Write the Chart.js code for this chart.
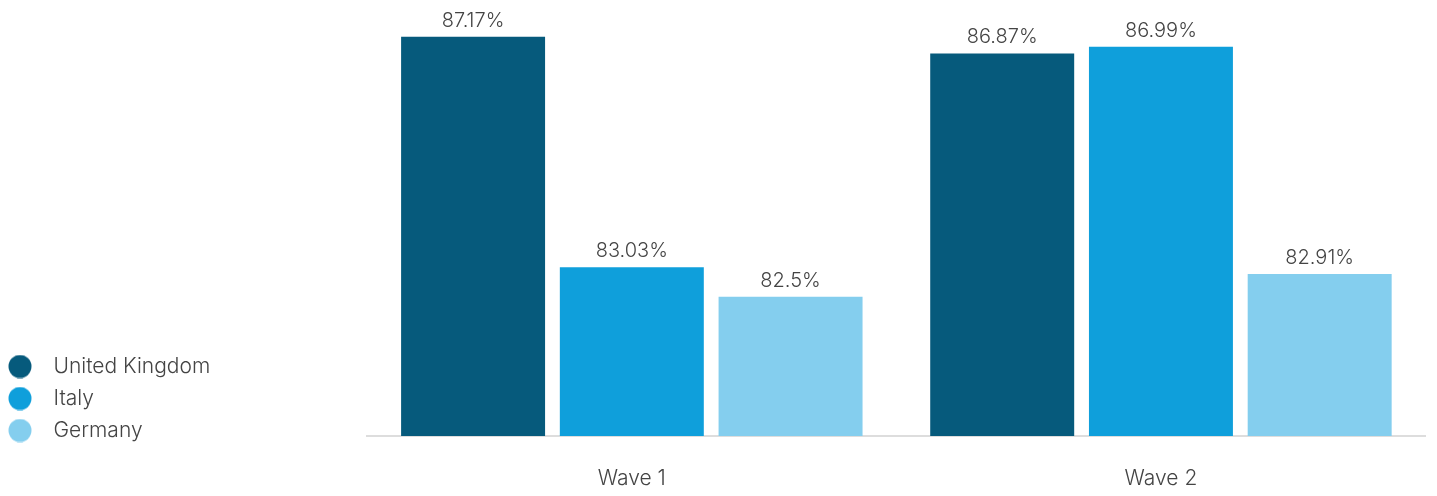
<!DOCTYPE html>
<html>
<head>
<meta charset="utf-8">
<script src="https://cdn.jsdelivr.net/npm/chart.js@4.4.1/dist/chart.umd.min.js"></script>
<style>
  html, body { margin: 0; padding: 0; background: #fff; }
  #wrap { width: 1437px; height: 496px; position: relative; }
</style>
</head>
<body>
<div id="wrap"><canvas id="chart"></canvas></div>
<script>
    "use strict";

    // Data
    var waves = ["Wave 1", "Wave 2"];
    var ukValues = [87.17, 86.87];
    var italyValues = [83.03, 86.99];
    var germanyValues = [82.5, 82.91];

    var colors = ["#065a7c", "#0f9fdb", "#84ceee"];
    var fontFamily = "Inter, 'Noto Sans', sans-serif";

    // Legend dots (circle sits at the left of a wider box)
    var makeDot = function (color) {
        var c = document.createElement("canvas");
        c.width = 40;
        c.height = 24;
        var g = c.getContext("2d");
        g.fillStyle = color;
        g.beginPath();
        g.arc(13, 12, 11.5, 0, 2 * Math.PI);
        g.fill();
        return c;
    };
    var dots = colors.map(makeDot);

    // Value labels above the bars
    var barLabels = {
        id: "barLabels",
        afterDatasetsDraw: function (chart) {
            var ctx = chart.ctx;
            ctx.save();
            ctx.font = "300 20px " + fontFamily;
            ctx.fillStyle = "#444444";
            ctx.textAlign = "center";
            ctx.textBaseline = "bottom";
            chart.data.datasets.forEach(function (ds, i) {
                chart.getDatasetMeta(i).data.forEach(function (bar, j) {
                    ctx.fillText(ds.data[j] + "%", bar.x, bar.y - 6);
                });
            });
            ctx.restore();
        }
    };

    // Nudge the legend down so it sits level with the bottom of the bars
    var legendShift = {
        id: "legendShift",
        afterLayout: function (chart) {
            if (chart.legend) {
                chart.legend.top += 16;
                chart.legend.bottom += 16;
            }
        }
    };

    var ctx = document.getElementById("chart").getContext("2d");
    var myChart = new Chart(ctx, {
        type: "bar",
        data: {
            labels: waves,
            datasets: [{
                    label: "United Kingdom",
                    data: ukValues,
                    backgroundColor: colors[0]
                },
                {
                    label: "Italy",
                    data: italyValues,
                    backgroundColor: colors[1]
                },
                {
                    label: "Germany",
                    data: germanyValues,
                    backgroundColor: colors[2]
                }
            ]
        },
        options: {
            responsive: true,
            maintainAspectRatio: false,
            animation: false,
            categoryPercentage: 0.9,
            barPercentage: 0.907,
            layout: {
                padding: { top: 0, right: 11.5, bottom: 6, left: 0 }
            },
            plugins: {
                tooltip: { enabled: false },
                legend: {
                    position: "left",
                    align: "end",
                    fullSize: false,
                    labels: {
                        usePointStyle: true,
                        pointStyleWidth: 32,
                        padding: 11,
                        color: "#444444",
                        font: { family: fontFamily, size: 21, weight: "300" },
                        generateLabels: function (chart) {
                            var items = Chart.defaults.plugins.legend.labels.generateLabels(chart);
                            items.forEach(function (item, i) {
                                item.pointStyle = dots[i];
                            });
                            return items;
                        }
                    }
                }
            },
            scales: {
                x: {
                    grid: { display: false },
                    border: { display: true, color: "#dddddd", width: 2 },
                    ticks: {
                        color: "#444444",
                        padding: 22,
                        font: { family: fontFamily, size: 21, weight: "300" }
                    },
                    afterFit: function (scale) {
                        scale.height = 54;
                    }
                },
                y: {
                    min: 80,
                    max: 87.83,
                    grid: { display: false },
                    border: { display: false },
                    ticks: { display: false },
                    afterFit: function (scale) {
                        scale.width = 147;
                    }
                }
            }
        },
        plugins: [barLabels, legendShift]
    });
</script>
</body>
</html>
